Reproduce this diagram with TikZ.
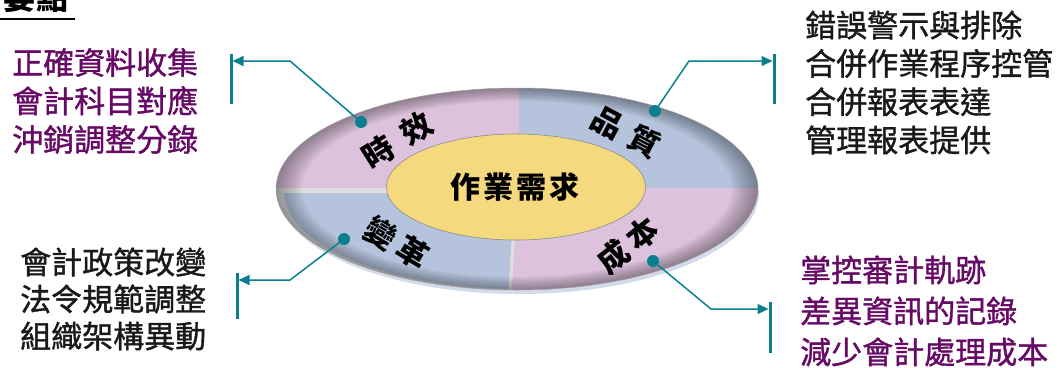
\documentclass[tikz,border=0pt]{standalone}
\usepackage{fontspec}
\newfontfamily\cjk{Noto Sans CJK TC}
\newfontfamily\cjkb[FakeBold=1.2]{Noto Sans CJK TC}
\usetikzlibrary{arrows.meta,shapes.geometric}
\definecolor{tealc}{HTML}{0A7F8F}
\definecolor{purp}{HTML}{660A66}
\definecolor{pinkq}{HTML}{DCC2DC}
\definecolor{blueq}{HTML}{B5C3DC}
\definecolor{yel}{HTML}{F4D97E}
\tikzset{
  sidetext/.style={anchor=west, align=left, inner sep=0pt, font=\cjkb\fontsize{31}{38.5}\selectfont},
  purptext/.style={sidetext, text=purp},
  blacktext/.style={sidetext, text=black!90},
  lab/.style={inner sep=0pt, font=\cjk\bfseries\fontsize{31}{33}\selectfont},
  dot/.style={circle, fill=tealc, inner sep=0pt, minimum size=12pt},
  conn/.style={draw=tealc, line width=1.5pt, -{Triangle[length=11pt,width=10pt]}},
  bar/.style={draw=tealc, line width=3pt}
}
\begin{document}
\begin{tikzpicture}[x=1pt,y=-1pt]
\useasboundingbox (0,0) rectangle (1064,367);
% header
\node[inner sep=0pt, font=\cjk\bfseries\fontsize{32}{34}\selectfont] (hdr) at (36,-3) {要點};
\draw[line width=2pt] (0,19) -- (75,19);
% base shadow
\fill[blueq!60!white] (519,193) ellipse [x radius=240pt, y radius=101pt];
% ring
\begin{scope}
\clip (517,189) ellipse [x radius=241pt, y radius=101pt];
\fill[gray!25] (270,80) rectangle (770,300);
\fill[pinkq] (270,80) rectangle (519,188);
\fill[blueq] (519,80) rectangle (770,188);
\fill[pinkq] (518,188) -- (770,188) -- (770,300) -- (511,300) -- cycle;
\begin{scope}
\clip (520,191) ellipse [x radius=236pt, y radius=98pt];
\fill[blueq] (270,193) -- (514,193) -- (508,300) -- (270,300) -- cycle;
\end{scope}
\foreach \k in {1,...,12}{
  \fill[black, opacity=0.03, even odd rule] (517,189) ellipse [x radius=241pt, y radius=101pt]
     (517,189) ellipse [x radius={241-2.2*\k}, y radius={101-1.1*\k}];
}
\end{scope}
\draw[gray!70, line width=0.5pt] (517,189) ellipse [x radius=241pt, y radius=101pt];
% core
\filldraw[fill=yel, draw=black!45, line width=0.6pt] (516,187) ellipse [x radius=129.5pt, y radius=53pt];
\node[inner sep=0pt, font=\cjk\bfseries\fontsize{30}{32}\selectfont] (core) at (515,187) {作\kern3pt 業\kern3pt 需\kern3pt 求};
% labels
\node[lab, rotate=32] (l1) at (397,140) {時\kern14pt 效};
\node[lab, rotate=-28] (l2) at (626,132) {品\kern11pt 質};
\node[lab, rotate=38] (l3) at (628,245) {成\kern6pt 本};
\node[lab, rotate=-31] (l4) at (397,243) {變\kern7pt 革};
% dots
\node[dot] (d1) at (361,122) {};
\node[dot] (d2) at (655,111) {};
\node[dot] (d3) at (653,261) {};
\node[dot] (d4) at (344,239) {};
% bars and arrow targets
\coordinate (t1) at (232.5,61);
\coordinate (t2) at (772.5,61);
\coordinate (t3) at (238.5,280);
\coordinate (t4) at (768.5,309);
\draw[bar] (231,54) -- (231,104);
\draw[bar] (774,54) -- (774,104);
\draw[bar] (237,273) -- (237,319);
\draw[bar] (770,302) -- (770,353);
\draw[conn] (d1.center) -- (290,61) -- (t1);
\draw[conn] (d2.center) -- (689,61) -- (t2);
\draw[conn] (d4.center) -- (290,280) -- (t3);
\draw[conn] (d3.center) -- (711,309) -- (t4);
% side texts
\node[purptext] (tl) at (12,101) {正確資料收集\\會計科目對應\\沖銷調整分錄};
\node[blacktext, font=\cjkb\fontsize{31}{37}\selectfont] (bl) at (20,299) {會計政策改變\\法令規範調整\\組織架構異動};
\node[blacktext, font=\cjkb\fontsize{31}{38.3}\selectfont] (tr) at (805,82.5) {錯誤警示與排除\\合併作業程序控管\\合併報表表達\\管理報表提供};
\node[purptext, font=\cjkb\fontsize{31}{41}\selectfont] (br) at (800,311) {掌控審計軌跡\\差異資訊的記錄\\減少會計處理成本};
\end{tikzpicture}
\end{document}
